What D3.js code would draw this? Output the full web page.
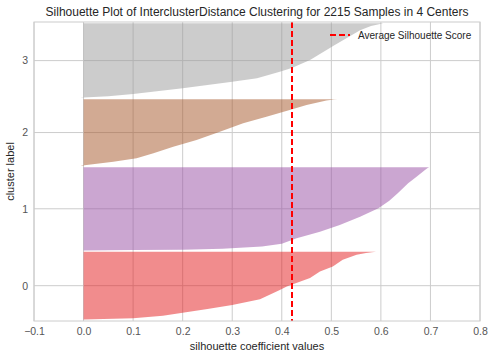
<!DOCTYPE html>
<html>
<head>
<meta charset="utf-8">
<script src="https://cdn.jsdelivr.net/npm/d3@7"></script>
<style>
  html, body { margin: 0; padding: 0; background: #fff; }
  svg { display: block; font-family: "Liberation Sans", Arial, sans-serif; }
</style>
</head>
<body>
<svg id="chart" width="494" height="359"></svg>
<script>
// ---- data ----
const title = "Silhouette Plot of InterclusterDistance Clustering for 2215 Samples in 4 Centers";
const clusterLabels = ["0", "1", "2", "3"];
const clusterSizes = [515, 630, 505, 565];
const clusterColors = ["#e41a1c", "#984ea3", "#a65628", "#999999"];
// sorted silhouette profile per cluster: rank within cluster -> value
const ranks0  = [0, 2, 5, 11, 30, 53, 80, 112, 155, 225, 251, 315, 365, 403, 454, 492, 505, 515];
const values0 = [-0.005, 0.0, 0.04, 0.1, 0.16, 0.2, 0.25, 0.3, 0.356, 0.396, 0.41, 0.457, 0.477, 0.503, 0.523, 0.551, 0.57, 0.59];
const ranks1  = [0, 2, 5, 12, 30, 50, 92, 142, 192, 255, 319, 375, 432, 508, 558, 609, 625, 630];
const values1 = [-0.005, 0.1, 0.2, 0.28, 0.36, 0.40, 0.43, 0.477, 0.517, 0.558, 0.595, 0.617, 0.634, 0.655, 0.672, 0.689, 0.695, 0.698];
const ranks2  = [0, 3, 7, 32, 58, 95, 145, 196, 259, 323, 372, 423, 461, 495, 502, 505];
const values2 = [-0.006, -0.002, 0.006, 0.06, 0.107, 0.141, 0.181, 0.228, 0.275, 0.322, 0.369, 0.416, 0.45, 0.49, 0.505, 0.512];
const ranks3  = [0, 4, 12, 30, 73, 123, 148, 198, 226, 287, 400, 513, 545, 565];
const values3 = [-0.006, 0.0, 0.05, 0.1, 0.2, 0.3, 0.35, 0.396, 0.42, 0.457, 0.507, 0.558, 0.58, 0.605];
const avgScore = 0.42;
const xTicks = [-0.1, 0.0, 0.1, 0.2, 0.3, 0.4, 0.5, 0.6, 0.7, 0.8];
const xLabel = "silhouette coefficient values";
const yLabel = "cluster label";
const legendLabel = "Average Silhouette Score";

const profiles = [
  ranks0.map((r, i) => [r, values0[i]]),
  ranks1.map((r, i) => [r, values1[i]]),
  ranks2.map((r, i) => [r, values2[i]]),
  ranks3.map((r, i) => [r, values3[i]])
];

// ---- layout ----
const W = 494, H = 359;
const m = { left: 34, right: 14, top: 22, bottom: 38 };
const pw = W - m.left - m.right, ph = H - m.top - m.bottom;
const svg = d3.select("#chart");
const g = svg.append("g").attr("transform", `translate(${m.left},${m.top})`);

const gap = 10;
const yLowers = [];
let acc = gap;
clusterSizes.forEach(s => { yLowers.push(acc); acc += s + gap; });
const yMax = d3.sum(clusterSizes) + gap * (clusterSizes.length + 1);
const tickPos = clusterSizes.map((s, i) => yLowers[i] + s / 2);

const x = d3.scaleLinear().domain([-0.1, 0.8]).range([0, pw]);
const y = d3.scaleLinear().domain([0, yMax]).range([ph, 0]);

const gridColor = "#cccccc", textColor = "#262626", tickColor = "#555555";

// grid
g.append("g").selectAll("line").data(xTicks).join("line")
  .attr("x1", d => x(d)).attr("x2", d => x(d)).attr("y1", 0).attr("y2", ph)
  .attr("stroke", gridColor).attr("stroke-width", 1);
g.append("g").selectAll("line").data(tickPos).join("line")
  .attr("x1", 0).attr("x2", pw).attr("y1", d => y(d)).attr("y2", d => y(d))
  .attr("stroke", gridColor).attr("stroke-width", 1);

// clip
svg.append("defs").append("clipPath").attr("id", "clip")
  .append("rect").attr("width", pw).attr("height", ph);

// silhouettes
const area = d3.area()
  .y(d => d.yy)
  .x0(() => x(0))
  .x1(d => x(d.v))
  .curve(d3.curveLinear);
const plot = g.append("g").attr("clip-path", "url(#clip)");
profiles.forEach((prof, i) => {
  const pts = prof.map(([r, v]) => ({ yy: y(yLowers[i] + r), v }));
  plot.append("path")
    .attr("d", area(pts))
    .attr("fill", clusterColors[i])
    .attr("fill-opacity", 0.5)
    .attr("stroke", "none");
});

// average line (snapped to whole pixels for crisp colour)
const ax = Math.round(m.left + x(avgScore)) - m.left;
plot.append("line")
  .attr("x1", ax).attr("x2", ax)
  .attr("y1", 0).attr("y2", ph)
  .attr("stroke", "#ff0000").attr("stroke-width", 2)
  .attr("shape-rendering", "crispEdges")
  .attr("stroke-dasharray", "6,3");

// frame
g.append("rect").attr("width", pw).attr("height", ph)
  .attr("fill", "none").attr("stroke", gridColor).attr("stroke-width", 1);

// axes labels
const xAxis = d3.axisBottom(x).tickValues(xTicks).tickSize(0).tickPadding(7)
  .tickFormat(d => d3.format(".1f")(d).replace("-", "\u2212"));
const xa = g.append("g").attr("transform", `translate(0,${ph})`).call(xAxis);
xa.select(".domain").remove();
xa.selectAll("text").attr("fill", tickColor).style("font-size", "10.5px")
  .style("font-family", "'Liberation Sans', Arial, sans-serif");

const yAxis = d3.axisLeft(y).tickValues(tickPos).tickSize(0).tickPadding(6)
  .tickFormat((d, i) => clusterLabels[i]);
const ya = g.append("g").call(yAxis);
ya.select(".domain").remove();
ya.selectAll("text").attr("fill", tickColor).style("font-size", "10.5px")
  .style("font-family", "'Liberation Sans', Arial, sans-serif");

// title
svg.append("text").attr("x", m.left + pw / 2).attr("y", 16)
  .attr("text-anchor", "middle").attr("fill", textColor)
  .style("font-size", "12px").text(title);

// axis titles
svg.append("text").attr("x", m.left + pw / 2).attr("y", 350)
  .attr("text-anchor", "middle").attr("fill", textColor)
  .style("font-size", "11px").text(xLabel);
svg.append("text").attr("transform", `translate(14,${m.top + ph / 2}) rotate(-90)`)
  .attr("text-anchor", "middle").attr("fill", textColor)
  .style("font-size", "11px").text(yLabel);

// legend
const lg = svg.append("g").attr("transform", "translate(330,35)");
lg.append("line").attr("x1", 0).attr("x2", 20).attr("y1", 0).attr("y2", 0)
  .attr("stroke", "#ff0000").attr("stroke-width", 2)
  .attr("shape-rendering", "crispEdges").attr("stroke-dasharray", "6,3");
lg.append("text").attr("x", 28).attr("y", 3.5).attr("fill", textColor)
  .style("font-size", "10px").text(legendLabel);
</script>
</body>
</html>
